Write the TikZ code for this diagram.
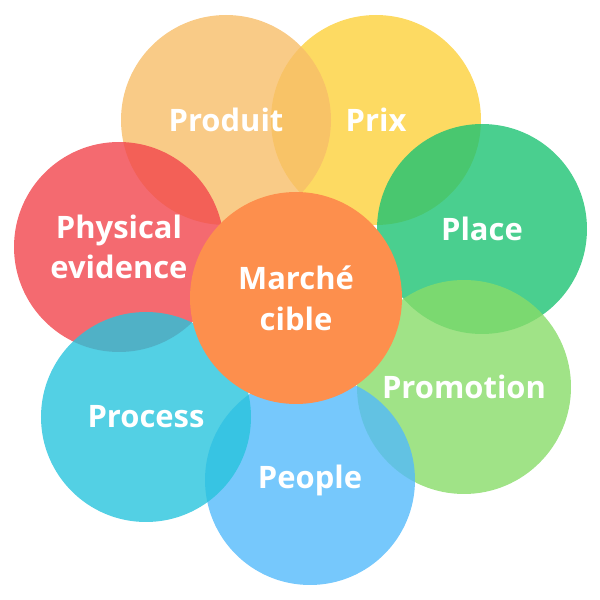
\documentclass[tikz,border=0pt]{standalone}
\usepackage{fontspec}
\setmainfont{Open Sans}
\usepackage{tikz}
\usetikzlibrary{positioning}
\definecolor{cProduit}{RGB}{248,190,105}
\definecolor{cPrix}{RGB}{253,209,59}
\definecolor{cPlace}{RGB}{29,195,115}
\definecolor{cPromo}{RGB}{136,220,105}
\definecolor{cPeople}{RGB}{84,186,251}
\definecolor{cProcess}{RGB}{40,196,221}
\definecolor{cPhys}{RGB}{241,69,76}
\definecolor{cCible}{RGB}{253,143,77}
\tikzset{
  petal/.style={circle, minimum size=5.25cm, inner sep=0pt,
    fill opacity=0.8, text opacity=1, text=white, align=center,
    font=\fontsize{22}{29}\selectfont\bfseries},
  core/.style={petal, fill opacity=1, minimum size=5.3cm},
}

\begin{document}
\begin{tikzpicture}
  \useasboundingbox (0,0) rectangle (15,15);

  % ---- outer circles ----
  \node[petal, fill=cPrix]    (prix)    at (9.4,12.0)    {Prix};
  \node[petal, fill=cProduit] (produit) at (5.65,12.0)   {Produit};
  \node[petal, fill=cPhys]    (phys)    at (2.975,8.825) {Physical\\evidence};
  \node[petal, fill=cPlace]   (place)   at (12.05,9.275) {Place};
  \node[petal, fill=cPromo, minimum size=5.35cm]
                              (promo)   at (11.6,5.325)  {Promotion};
  \node[petal, fill=cPeople]  (people)  at (7.75,3.0)    {People};
  \node[petal, fill=cProcess] (process) at (3.65,4.575)  {Process};

  % ---- target market ----
  \node[core, fill=cCible]    (cible)   at (7.4,7.55)    {Marché\\cible};
\end{tikzpicture}
\end{document}
